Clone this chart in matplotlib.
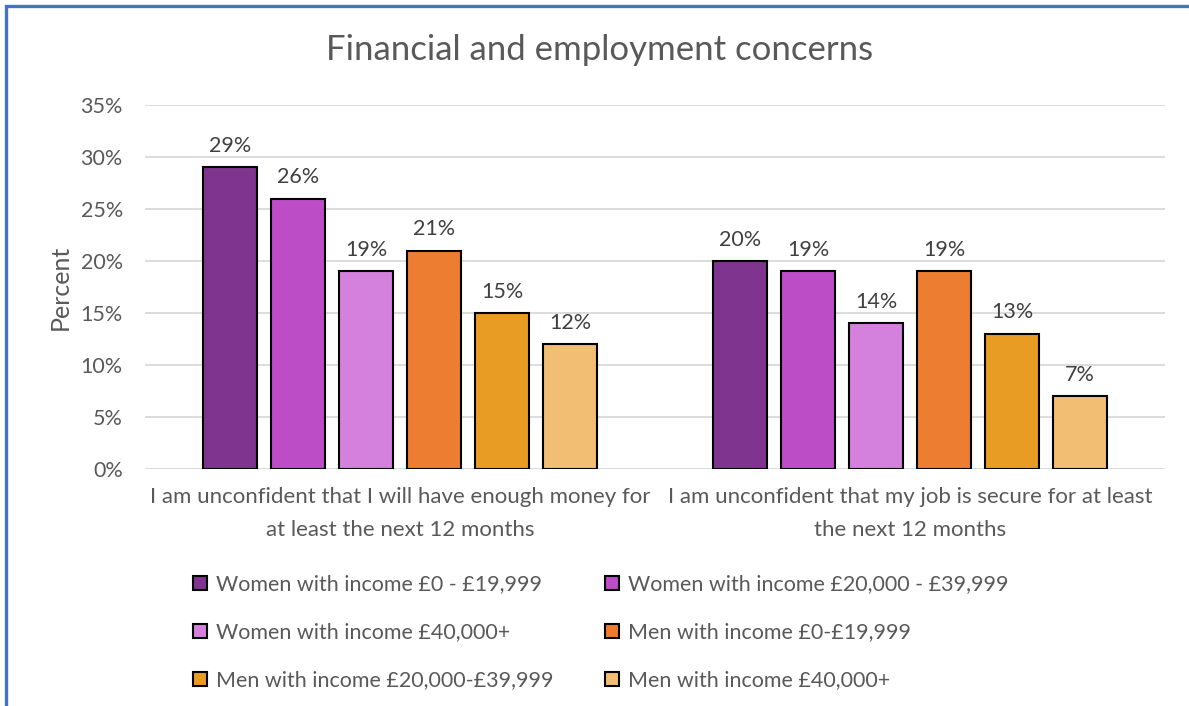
import matplotlib.pyplot as plt
from matplotlib.patches import Rectangle, Patch
import numpy as np

plt.rcParams['font.family'] = ['Lato', 'DejaVu Sans']

categories = [
    "I am unconfident that I will have enough money for\nat least the next 12 months",
    "I am unconfident that my job is secure for at least\nthe next 12 months",
]
series_names = [
    "Women with income £0 - £19,999",
    "Women with income £20,000 - £39,999",
    "Women with income £40,000+",
    "Men with income £0-£19,999",
    "Men with income £20,000-£39,999",
    "Men with income £40,000+",
]
values = [
    [29, 20],
    [26, 19],
    [19, 14],
    [21, 19],
    [15, 13],
    [12, 7],
]
colors = ["#7F348F", "#BD4DC7", "#D381DC", "#ED7D31", "#E99C24", "#F2BE74"]
yticks = [0, 5, 10, 15, 20, 25, 30, 35]

W, H = 1189, 706
fig = plt.figure(figsize=(W / 100, H / 100), dpi=100)

# plot area in pixel coordinates
left, right, top, bottom = 145, 1165, 105, 469
ax = fig.add_axes([left / W, 1 - bottom / H, (right - left) / W, (bottom - top) / H])

x = np.arange(len(categories))
step = 68 / 510
width = 54 / 510
n = len(series_names)
handles = []
for i, (name, vals, c) in enumerate(zip(series_names, values, colors)):
    pos = x + (i - (n - 1) / 2) * step
    bars = ax.bar(pos, vals, width=width, color=c, edgecolor="black", linewidth=1.5, zorder=3)
    for b, v in zip(bars, vals):
        ax.text(b.get_x() + b.get_width() / 2, v + 1.1, f"{v}%", ha="center", va="bottom",
                fontsize=15.5, color="#404040")
    handles.append(Patch(facecolor=c, edgecolor="black", linewidth=1.5, label=name))

ax.set_xlim(-0.5, 1.5)
ax.set_ylim(0, 35)
ax.set_yticks(yticks)
ax.set_yticklabels([f"{t}%" for t in yticks], fontsize=15.5, color="#595959")
ax.set_xticks(x)
ax.set_xticklabels(categories, fontsize=16, color="#595959", linespacing=1.8)
ax.tick_params(axis="both", length=0)
ax.tick_params(axis="y", pad=16)
ax.tick_params(axis="x", pad=13)
ax.grid(axis="y", color="#D9D9D9", linewidth=1.3, zorder=0)
for s in ax.spines.values():
    s.set_visible(False)
ax.set_ylabel("Percent", fontsize=18, color="#595959", labelpad=6)

fig.text(600 / W, 1 - 50 / H, "Financial and employment concerns", ha="center", va="center",
         fontsize=25, color="#595959")

# legend filled column-first, so reorder to read row by row
order = [0, 2, 4, 1, 3, 5]
leg = fig.legend([handles[i] for i in order], [series_names[i] for i in order],
                 ncol=2, loc="upper left", bbox_to_anchor=(174 / W, 1 - 555 / H),
                 frameon=False, fontsize=15.5, handlelength=0.65, handleheight=0.65,
                 handletextpad=0.4, labelspacing=1.3, columnspacing=2.4,
                 labelcolor="#595959")

# chart frame
fig.patches.append(Rectangle((6 / W, -0.1), 1.2, 1 + 0.1 - 6 / H, transform=fig.transFigure,
                             fill=False, edgecolor="#4472C4", linewidth=2.4, zorder=10))

fig.savefig("out.png", dpi=100)
